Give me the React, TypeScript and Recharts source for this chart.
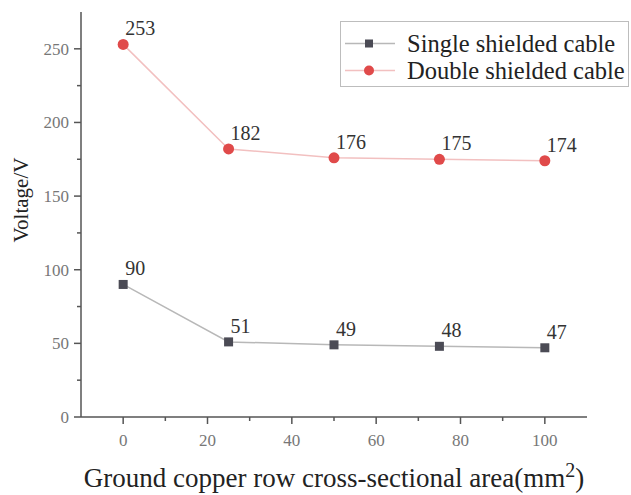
import React from 'react';
import { LineChart, Line, XAxis, YAxis, Legend, Label } from 'recharts';

// Cross-sectional area of the ground copper row (mm²)
const areas = [0, 25, 50, 75, 100];
// Induced voltage (V)
const singleShielded = [90, 51, 49, 48, 47];
const doubleShielded = [253, 182, 176, 175, 174];

const xTicks = [0, 10, 20, 30, 40, 50, 60, 70, 80, 90, 100];
const yTicks = [0, 25, 50, 75, 100, 125, 150, 175, 200, 225, 250];

const seriesNames = ['Single shielded cable', 'Double shielded cable'];

const data = areas.map((a, i) => ({
  area: a,
  single: singleShielded[i],
  double: doubleShielded[i],
}));

const SERIF = 'Liberation Serif, Times New Roman, serif';
const AXIS = '#555';
const TICK_TEXT = '#777';
const SINGLE_LINE = '#b8b8b8';
const SINGLE_MARK = '#4b4b55';
const DOUBLE_LINE = '#f2c0c0';
const DOUBLE_MARK = '#e04a4a';

const XTick = (props: any) => {
  const { x, y, payload } = props;
  const major = payload.value % 20 === 0;
  return (
    <g>
      <line x1={x} x2={x} y1={y} y2={y + (major ? 7 : 4)} stroke={AXIS} strokeWidth={1.5} />
      {major && (
        <text x={x} y={y + 29} textAnchor="middle" style={{ fontFamily: SERIF, fontSize: 17 }} fill={TICK_TEXT}>
          {payload.value}
        </text>
      )}
    </g>
  );
};

const YTick = (props: any) => {
  const { x, y, payload } = props;
  const major = payload.value % 50 === 0;
  return (
    <g>
      <line x1={x} x2={x - (major ? 7 : 4)} y1={y} y2={y} stroke={AXIS} strokeWidth={1.5} />
      {major && (
        <text x={x - 12} y={y + 6} textAnchor="end" style={{ fontFamily: SERIF, fontSize: 17 }} fill={TICK_TEXT}>
          {payload.value}
        </text>
      )}
    </g>
  );
};

const SquareDot = (props: any) => {
  const { cx, cy } = props;
  if (cx == null || cy == null) return null;
  return <rect x={cx - 4.5} y={cy - 4.5} width={9} height={9} fill={SINGLE_MARK} />;
};

const CircleDot = (props: any) => {
  const { cx, cy } = props;
  if (cx == null || cy == null) return null;
  return <circle cx={cx} cy={cy} r={5.5} fill={DOUBLE_MARK} />;
};

const ValueLabel = (props: any) => {
  const { x, y, value } = props;
  return (
    <text x={x + 2} y={y - 9} style={{ fontFamily: SERIF, fontSize: 20 }} fill="#333">
      {value}
    </text>
  );
};

const XTitle = (props: any) => {
  const { viewBox } = props;
  const cx = viewBox.x + viewBox.width / 2;
  return (
    <text x={cx} y={487} textAnchor="middle" style={{ fontFamily: SERIF, fontSize: 27 }} fill="#222">
      Ground copper row cross-sectional area(mm
      <tspan dy={-10} style={{ fontSize: 20 }}>2</tspan>
      <tspan dy={10}>)</tspan>
    </text>
  );
};

const YTitle = () => (
  <text
    x={28}
    y={200}
    transform="rotate(-90 28 200)"
    textAnchor="middle"
    style={{ fontFamily: SERIF, fontSize: 21 }}
    fill="#222"
  >
    Voltage/V
  </text>
);

const LegendBox = () => {
  const rows = [
    { name: seriesNames[0], line: SINGLE_LINE, mark: 'square' },
    { name: seriesNames[1], line: DOUBLE_LINE, mark: 'circle' },
  ];
  return (
    <div
      style={{
        position: 'relative',
        width: 289,
        height: 66,
        boxSizing: 'border-box',
        border: '1px solid #bdbdbd',
        background: '#fff',
        fontFamily: SERIF,
        fontSize: 24.5,
        color: '#222',
      }}
    >
      {rows.map((r, i) => (
        <div
          key={r.name}
          style={{ position: 'absolute', left: 0, top: 8 + i * 27, height: 27, display: 'flex', alignItems: 'center', whiteSpace: 'nowrap' }}
        >
          <svg width={66} height={27} style={{ display: 'block' }}>
            <line x1={4} x2={54} y1={13.5} y2={13.5} stroke={r.line} strokeWidth={1.5} />
            {r.mark === 'square' ? (
              <rect x={24} y={9.5} width={8} height={8} fill={SINGLE_MARK} />
            ) : (
              <circle cx={28} cy={13.5} r={5} fill={DOUBLE_MARK} />
            )}
          </svg>
          <span>{r.name}</span>
        </div>
      ))}
    </div>
  );
};

export default function App() {
  return (
    <div style={{ position: 'absolute', left: 0, top: 0, width: 631, height: 495, background: '#fff' }}>
      <LineChart width={631} height={495} data={data} margin={{ top: 12, right: 44, left: 0, bottom: 0 }}>
        <XAxis
          dataKey="area"
          type="number"
          domain={[-10, 110]}
          ticks={xTicks}
          interval={0}
          allowDataOverflow
          height={78}
          tickSize={0}
          tickMargin={0}
          tickLine={false}
          tick={<XTick />}
          axisLine={{ stroke: AXIS, strokeWidth: 1.5 }}
        >
          <Label content={<XTitle />} />
        </XAxis>
        <YAxis
          type="number"
          domain={[0, 275]}
          ticks={yTicks}
          interval={0}
          allowDataOverflow
          width={81}
          tickSize={0}
          tickMargin={0}
          tickLine={false}
          tick={<YTick />}
          axisLine={{ stroke: AXIS, strokeWidth: 1.5 }}
        >
          <Label content={<YTitle />} />
        </YAxis>
        <Legend
          layout="vertical"
          align="center"
          verticalAlign="middle"
          content={<LegendBox />}
          wrapperStyle={{ left: 340, top: 21, width: 289, height: 66 }}
        />
        <Line
          dataKey="single"
          name={seriesNames[0]}
          stroke={SINGLE_LINE}
          strokeWidth={1.5}
          dot={<SquareDot />}
          activeDot={false}
          label={<ValueLabel />}
          isAnimationActive={false}
        />
        <Line
          dataKey="double"
          name={seriesNames[1]}
          stroke={DOUBLE_LINE}
          strokeWidth={1.5}
          dot={<CircleDot />}
          activeDot={false}
          label={<ValueLabel />}
          isAnimationActive={false}
        />
      </LineChart>
    </div>
  );
}
